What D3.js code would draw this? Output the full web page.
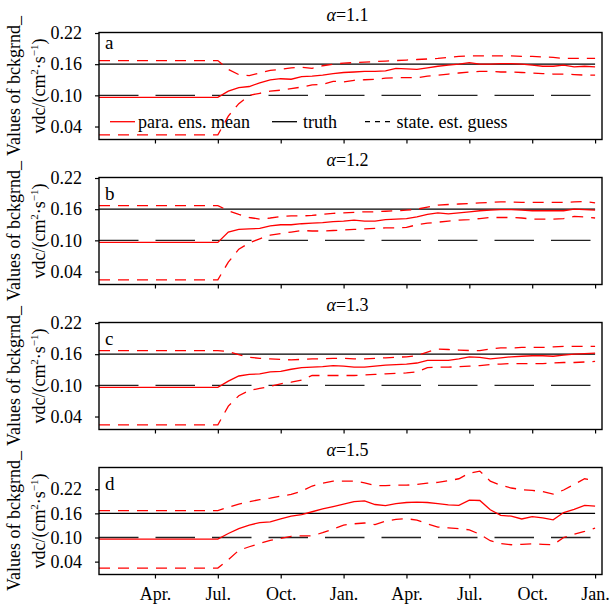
<!DOCTYPE html>
<html><head><meta charset="utf-8">
<script src="https://cdn.jsdelivr.net/npm/d3@7"></script>
<style>
html,body{margin:0;padding:0;background:#fff;}
svg text{font-family:"Liberation Serif","Tinos","Times New Roman","DejaVu Serif",serif !important;}
</style></head>
<body><svg id="c" width="610" height="605"></svg>
<script>
// ---- data ----
const months = [0.33, 6, 6.5, 7, 7.5, 8, 8.5, 9, 9.5, 10, 10.5, 11, 11.5, 12, 12.5, 13, 13.5, 14, 14.5, 15, 15.5, 16, 16.5, 17, 17.5, 18, 18.5, 19, 19.5, 20, 20.5, 21, 21.5, 22, 22.5, 23, 23.5, 24];
const tickMonths = [3, 6, 9, 12, 15, 18, 21, 24];
const tickLabels = ["Apr.", "Jul.", "Oct.", "Jan.", "Apr.", "Jul.", "Oct.", "Jan."];
const panelLetters = ["a", "b", "c", "d"];
const panelTitles = ["1.1", "1.2", "1.3", "1.5"];
const yTicks = [0.04, 0.10, 0.16, 0.22];
const truthValue = 0.16;
const guessValue = 0.10;

const meanA = [0.096,0.096,0.108,0.115,0.117,0.124,0.130,0.132,0.131,0.136,0.137,0.139,0.142,0.144,0.145,0.146,0.146,0.147,0.152,0.151,0.150,0.153,0.156,0.158,0.160,0.163,0.160,0.160,0.161,0.161,0.160,0.158,0.156,0.156,0.158,0.155,0.156,0.155];
const upperA = [0.167,0.167,0.150,0.140,0.138,0.143,0.148,0.150,0.153,0.154,0.152,0.157,0.160,0.162,0.163,0.164,0.165,0.166,0.167,0.168,0.169,0.170,0.171,0.173,0.175,0.176,0.176,0.176,0.176,0.176,0.175,0.175,0.174,0.173,0.171,0.171,0.171,0.171];
const lowerA = [0.024,0.024,0.060,0.084,0.100,0.104,0.108,0.110,0.113,0.116,0.120,0.121,0.127,0.126,0.129,0.130,0.131,0.133,0.134,0.134,0.134,0.137,0.139,0.141,0.143,0.145,0.146,0.146,0.145,0.145,0.144,0.143,0.142,0.141,0.141,0.140,0.139,0.139];

const meanB = [0.096,0.096,0.116,0.121,0.122,0.123,0.128,0.130,0.130,0.132,0.133,0.134,0.136,0.137,0.139,0.137,0.137,0.140,0.141,0.142,0.145,0.150,0.153,0.151,0.153,0.155,0.157,0.158,0.159,0.159,0.158,0.157,0.157,0.157,0.157,0.160,0.159,0.158];
const upperB = [0.167,0.167,0.157,0.150,0.144,0.141,0.143,0.146,0.147,0.147,0.148,0.150,0.152,0.153,0.154,0.155,0.155,0.156,0.157,0.158,0.160,0.164,0.168,0.169,0.170,0.171,0.172,0.173,0.174,0.174,0.173,0.173,0.173,0.173,0.173,0.174,0.175,0.172];
const lowerB = [0.024,0.024,0.058,0.083,0.095,0.103,0.110,0.113,0.116,0.119,0.118,0.118,0.119,0.120,0.121,0.122,0.123,0.124,0.124,0.125,0.130,0.133,0.135,0.137,0.139,0.140,0.142,0.144,0.144,0.144,0.143,0.141,0.141,0.141,0.142,0.146,0.145,0.143];

const meanC = [0.096,0.096,0.108,0.118,0.121,0.122,0.126,0.127,0.131,0.134,0.135,0.136,0.138,0.137,0.135,0.135,0.137,0.139,0.140,0.141,0.143,0.148,0.148,0.148,0.151,0.155,0.154,0.151,0.153,0.155,0.156,0.157,0.157,0.156,0.158,0.160,0.161,0.162];
const upperC = [0.167,0.167,0.165,0.159,0.154,0.152,0.151,0.150,0.149,0.150,0.151,0.151,0.152,0.152,0.151,0.151,0.152,0.153,0.154,0.155,0.157,0.164,0.170,0.169,0.168,0.167,0.167,0.170,0.172,0.172,0.173,0.173,0.173,0.174,0.175,0.175,0.175,0.175];
const lowerC = [0.024,0.024,0.060,0.080,0.090,0.094,0.098,0.103,0.106,0.110,0.119,0.119,0.119,0.119,0.119,0.120,0.121,0.122,0.123,0.124,0.126,0.134,0.135,0.135,0.136,0.137,0.138,0.140,0.141,0.142,0.142,0.142,0.142,0.143,0.144,0.144,0.145,0.146];

const meanD = [0.096,0.096,0.110,0.122,0.131,0.137,0.139,0.146,0.153,0.157,0.164,0.171,0.177,0.183,0.189,0.191,0.182,0.179,0.184,0.187,0.188,0.187,0.184,0.181,0.180,0.193,0.192,0.169,0.155,0.153,0.146,0.152,0.149,0.144,0.162,0.170,0.180,0.178];
const upperD = [0.167,0.167,0.175,0.183,0.189,0.194,0.198,0.203,0.207,0.215,0.228,0.235,0.240,0.240,0.240,0.236,0.229,0.229,0.230,0.230,0.232,0.235,0.237,0.241,0.246,0.260,0.265,0.240,0.230,0.223,0.219,0.217,0.214,0.208,0.218,0.232,0.246,0.242];
const lowerD = [0.024,0.024,0.045,0.068,0.077,0.085,0.093,0.098,0.103,0.104,0.104,0.112,0.121,0.131,0.134,0.136,0.132,0.141,0.145,0.147,0.143,0.134,0.126,0.124,0.122,0.119,0.108,0.092,0.085,0.082,0.083,0.084,0.083,0.082,0.100,0.108,0.115,0.123];

const yDomains = [[0.015, 0.221], [0.015, 0.221], [0.015, 0.221], [0.008, 0.274]];
const means = [meanA, meanB, meanC, meanD];
const uppers = [upperA, upperB, upperC, upperD];
const lowers = [lowerA, lowerB, lowerC, lowerD];

// ---- layout ----
const FONT = "'Liberation Serif', Tinos, 'Times New Roman', 'DejaVu Serif', serif";
const svg = d3.select("#c").attr("font-family", FONT);
svg.append("rect").attr("width",610).attr("height",605).attr("fill","#fff");
const L = 99, R = 602, panelH = 107, firstTop = 32.5, step = 145;
const letterOffsets = [16.5, 22, 22, 22];
const FS = 18;
const x = d3.scaleLinear().domain([0.33, 24.33]).range([L, R]);
const red = "#ff0000";

panelLetters.forEach((letter, i) => {
  const top = firstTop + i * step, bottom = top + panelH;
  const y = d3.scaleLinear().domain(yDomains[i]).range([bottom, top]);
  const g = svg.append("g");

  const line = d3.line().x(d => x(d[0])).y(d => y(d[1]));
  const pts = arr => months.map((m, k) => [m, arr[k]]);

  // truth
  g.append("path").attr("d", line([[months[0], truthValue], [months[months.length-1], truthValue]]))
    .attr("stroke", "#000").attr("stroke-width", 1.3).attr("fill", "none");
  // state est guess
  g.append("path").attr("d", line([[months[0], guessValue], [months[months.length-1], guessValue]]))
    .attr("stroke", "#222").attr("stroke-width", 1.4).attr("fill", "none")
    .attr("stroke-dasharray", "39.5,17");
  // ensemble bounds
  [uppers[i], lowers[i]].forEach(arr => {
    g.append("path").attr("d", line(pts(arr)))
      .attr("stroke", red).attr("stroke-width", 1.3).attr("fill", "none")
      .attr("stroke-dasharray", "11,8");
  });
  // mean
  g.append("path").attr("d", line(pts(means[i])))
    .attr("stroke", red).attr("stroke-width", 1.3).attr("fill", "none");

  // frame
  g.append("rect").attr("x", L).attr("y", top).attr("width", R - L).attr("height", panelH)
    .attr("fill", "none").attr("stroke", "#000").attr("stroke-width", 1.4);

  // y axis
  const ya = g.append("g").attr("transform", `translate(${L},0)`)
    .call(d3.axisLeft(y).tickValues(yTicks).tickFormat(d3.format(".2f")).tickSize(4).tickPadding(13));
  ya.attr("font-family", FONT).attr("font-size", FS);
  ya.select(".domain").remove();
  ya.selectAll("line").attr("stroke", "#000").attr("stroke-width", 1.2);
  ya.selectAll("text").attr("fill", "#000");

  // x axis
  const xa = g.append("g").attr("transform", `translate(0,${bottom})`)
    .call(d3.axisBottom(x).tickValues(tickMonths).tickSize(4).tickPadding(9)
      .tickFormat((d, k) => i === 3 ? tickLabels[k] : ""));
  xa.attr("font-family", FONT).attr("font-size", FS);
  xa.select(".domain").remove();
  xa.selectAll("line").attr("stroke", "#000").attr("stroke-width", 1.2);
  xa.selectAll("text").attr("fill", "#000");

  // panel letter
  g.append("text").attr("x", 105).attr("y", top + letterOffsets[i])
    .attr("font-size", 19).text(letter);

  // title
  const t = g.append("text").attr("x", (L + R) / 2 - 3).attr("y", top - 11.5)
    .attr("text-anchor", "middle").attr("font-size", FS);
  t.append("tspan").attr("font-style", "italic").text("α");
  t.append("tspan").text("=" + panelTitles[i]);

  // y label
  const cy = (top + bottom) / 2;
  g.append("text").attr("transform", `translate(20,${cy}) rotate(-90)`)
    .attr("text-anchor", "middle").attr("font-size", FS).text("Values of bckgrnd_");
  const l2 = g.append("text").attr("transform", `translate(45,${cy}) rotate(-90)`)
    .attr("text-anchor", "middle").attr("font-size", FS);
  l2.append("tspan").text("vdc/(cm");
  l2.append("tspan").attr("font-size", 11).attr("dy", -7).text("2");
  l2.append("tspan").attr("dy", 7).text("·s");
  l2.append("tspan").attr("font-size", 11).attr("dy", -7).text("−1");
  l2.append("tspan").attr("dy", 7).text(")");

  // legend (panel a only)
  if (i === 0) {
    const ly = 121.7, lb = 127.5;
    const lg = svg.append("g");
    lg.append("line").attr("x1", 110).attr("x2", 135).attr("y1", ly).attr("y2", ly)
      .attr("stroke", red).attr("stroke-width", 1.3);
    lg.append("text").attr("x", 138).attr("y", lb).attr("font-size", FS).text("para. ens. mean");
    lg.append("line").attr("x1", 272).attr("x2", 297).attr("y1", ly).attr("y2", ly)
      .attr("stroke", "#000").attr("stroke-width", 1.3);
    lg.append("text").attr("x", 303).attr("y", lb).attr("font-size", FS).text("truth");
    lg.append("line").attr("x1", 365).attr("x2", 391).attr("y1", ly).attr("y2", ly)
      .attr("stroke", "#000").attr("stroke-width", 1.3).attr("stroke-dasharray", "5,5");
    lg.append("text").attr("x", 396.5).attr("y", lb).attr("font-size", FS).text("state. est. guess");
  }
});
</script></body></html>
